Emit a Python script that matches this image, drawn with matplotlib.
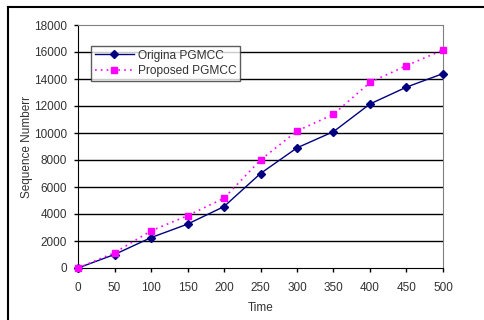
import matplotlib.pyplot as plt
from matplotlib.lines import Line2D

time = [0, 50, 100, 150, 200, 250, 300, 350, 400, 450, 500]
original = [0, 1000, 2250, 3250, 4550, 7000, 8900, 10100, 12150, 13400, 14400]
proposed = [0, 1130, 2750, 3870, 5170, 8000, 10150, 11380, 13750, 14990, 16150]

plt.rcParams['font.family'] = ['Liberation Sans', 'DejaVu Sans']

fig = plt.figure(figsize=(4.85, 3.2), dpi=100)
W, H = 485, 320
ax = fig.add_axes([78 / W, 1 - 268 / H, (443 - 78) / W, (268 - 25) / H])

ax.set_xlim(0, 500)
ax.set_ylim(0, 18000)
ax.set_xticks(range(0, 501, 50))
ax.set_yticks(range(0, 18001, 2000))
for y in range(2000, 18000, 2000):
    ax.axhline(y, color='black', lw=1.0, zorder=1)

ax.plot(time, original, color='#000080', lw=1.0, marker='D', ms=4.5,
        label='Origina PGMCC', zorder=3, clip_on=False)
ax.plot(time, proposed, color='#ff00ff', lw=1.2, ls=(0, (1, 2.5)), marker='s',
        ms=5, label='Proposed PGMCC', zorder=4, clip_on=False)

for s in ['top', 'right']:
    ax.spines[s].set_color('#808080')
for s in ['left', 'bottom']:
    ax.spines[s].set_color('black')
ax.tick_params(direction='out', length=3, labelsize=8.5, labelcolor='#333333',
               width=1, color='black')
ax.tick_params(axis='x', pad=7)
ax.tick_params(axis='y', pad=5)

ax.set_xlabel('Time', fontsize=8.5, color='#333333', labelpad=6)
ax.set_ylabel('Sequence Numberr', fontsize=8.5, color='#333333')
ax.yaxis.set_label_coords((33 - 78) / 365, 0.5)

leg = ax.legend(loc='upper left', bbox_to_anchor=((91 - 78) / 365, 1 - (46 - 25) / 243),
                fontsize=8.6, frameon=True, fancybox=False, borderpad=0.3,
                handlelength=3.3, labelspacing=0.3, borderaxespad=0,
                handletextpad=0.3)
leg.get_frame().set_edgecolor('#333333')
leg.get_frame().set_linewidth(1.0)
for t in leg.get_texts():
    t.set_color('#333333')

fig.add_artist(Line2D([8 / W, 8 / W], [0, 1 - 7 / H], color='black', lw=1.5))
fig.add_artist(Line2D([8 / W, 1], [1 - 7 / H, 1 - 7 / H], color='black', lw=1.5))

fig.savefig('out.png', dpi=100)
